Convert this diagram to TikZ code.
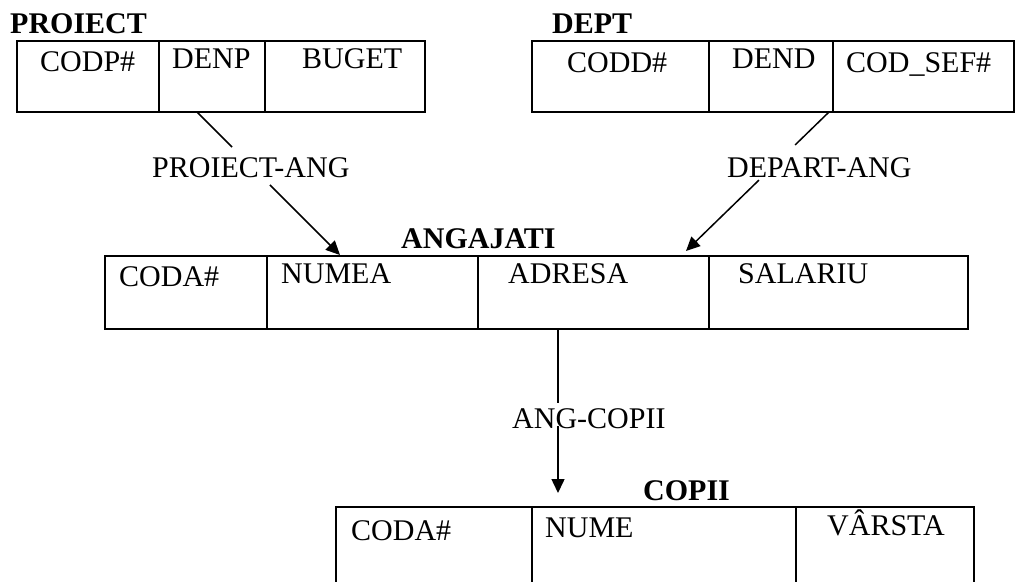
\documentclass[tikz,border=0pt]{standalone}
\usepackage{fontspec}
\setmainfont{Liberation Serif}
\usetikzlibrary{arrows.meta,calc}
\begin{document}
\begin{tikzpicture}[x=1pt,y=-1pt,
  txt/.style={anchor=base west,inner sep=0pt,font=\fontsize{30}{36}\selectfont},
  ttl/.style={anchor=base west,inner sep=0pt,font=\fontsize{30}{36}\selectfont\bfseries},
  cell/.style={draw,line width=1.4pt,anchor=north west,inner sep=0pt,outer sep=0pt},
  outer/.style={draw,line width=2.2pt},
  conn/.style={line width=1.5pt},
  arr/.style={conn,-{Triangle[length=14pt,width=13pt]}}]
\useasboundingbox (0,0) rectangle (1016,581);
\clip (0,0) rectangle (1016,581);
\fill[white] (0,0) rectangle (1016,581);

% PROIECT
\node[ttl] (pt) at (10,33) {PROIECT};
\node[cell,minimum width=142,minimum height=71] (p1) at (17,41) {};
\node[cell,minimum width=106,minimum height=71] (p2) at (159,41) {};
\node[cell,minimum width=160,minimum height=71] (p3) at (265,41) {};
\draw[outer] (p1.north west) rectangle (p3.south east);
\node[txt] (p1t) at (40,71) {CODP\#};
\node[txt] (p2t) at (172,68) {DENP};
\node[txt] (p3t) at (302,68) {BUGET};

% DEPT
\node[ttl] (dt) at (552,33) {DEPT};
\node[cell,minimum width=177,minimum height=71] (d1) at (532,41) {};
\node[cell,minimum width=124,minimum height=71] (d2) at (709,41) {};
\node[cell,minimum width=181,minimum height=71] (d3) at (833,41) {};
\draw[outer] (d1.north west) rectangle (d3.south east);
\node[txt] (d1t) at (567,72) {CODD\#};
\node[txt] (d2t) at (732,68) {DEND};
\node[txt] (d3t) at (846,72) {COD\_SEF\#};

% ANGAJATI
\node[ttl] (at) at (401,248) {ANGAJATI};
\node[cell,minimum width=162,minimum height=73] (a1) at (105,256) {};
\node[cell,minimum width=211,minimum height=73] (a2) at (267,256) {};
\node[cell,minimum width=231,minimum height=73] (a3) at (478,256) {};
\node[cell,minimum width=259,minimum height=73] (a4) at (709,256) {};
\draw[outer] (a1.north west) rectangle (a4.south east);
\node[txt] (a1t) at (119,286) {CODA\#};
\node[txt] (a2t) at (281,283) {NUMEA};
\node[txt] (a3t) at (508,283) {ADRESA};
\node[txt] (a4t) at (738,283) {SALARIU};

% COPII
\node[ttl] (ct) at (643,500) {COPII};
\node[cell,minimum width=196,minimum height=100] (c1) at (336,507) {};
\node[cell,minimum width=264,minimum height=100] (c2) at (532,507) {};
\node[cell,minimum width=178,minimum height=100] (c3) at (796,507) {};
\draw[outer] (c1.north west) rectangle (c3.south east);
\node[txt] (c1t) at (351,540) {CODA\#};
\node[txt] (c2t) at (545,537) {NUME};
\node[txt] (c3t) at (827,535) {VÂRSTA};

% labels
\node[txt] (l1) at (152,177) {PROIECT-ANG};
\node[txt] (l2) at (727,177) {DEPART-ANG};
\node[txt] (l3) at (512,428) {ANG-COPII};

% connectors
\coordinate (s1) at (197,112);
\coordinate (e1) at (340,255);
\coordinate (s2) at (829,112);
\coordinate (e2) at (686,251);
\coordinate (s3) at (558,329);
\coordinate (e3) at (558,493);
\draw[conn] (s1) -- ($(s1)!0.245!(e1)$);
\draw[arr] ($(s1)!0.51!(e1)$) -- (e1);
\draw[conn] (s2) -- ($(s2)!0.237!(e2)$);
\draw[arr] ($(s2)!0.49!(e2)$) -- (e2);
\draw[conn] (s3) -- ($(s3)!0.451!(e3)$);
\draw[arr] ($(s3)!0.59!(e3)$) -- (e3);
\end{tikzpicture}
\end{document}
